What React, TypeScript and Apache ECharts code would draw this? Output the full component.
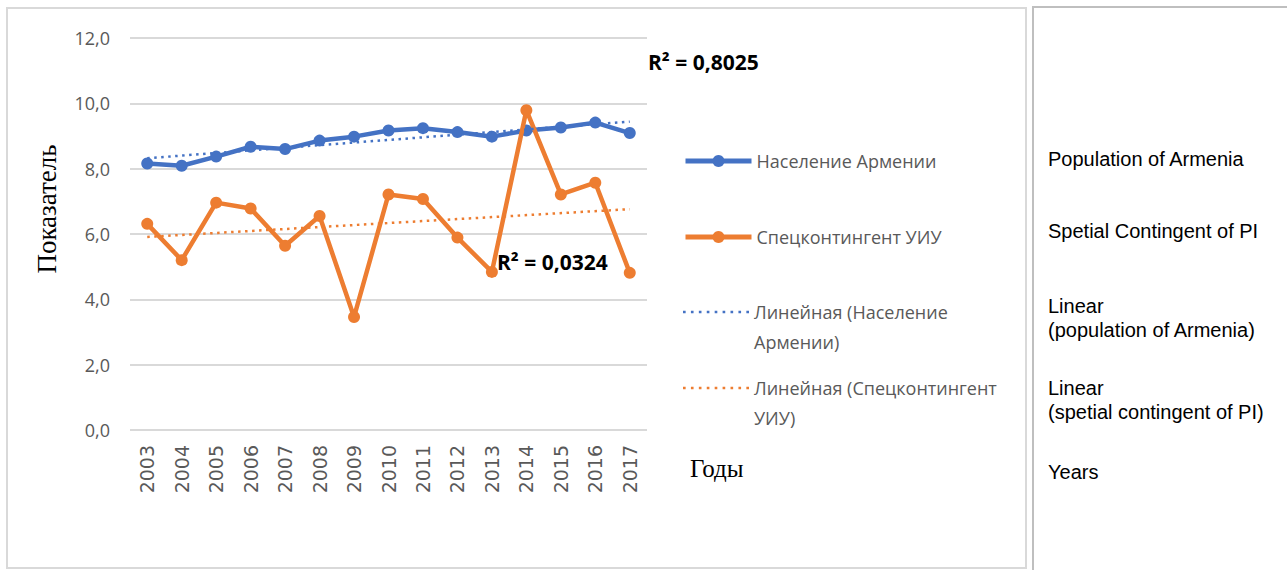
import React, { useEffect, useRef } from "react";
import * as echarts from "echarts";

// ---- data ----
const years = ["2003", "2004", "2005", "2006", "2007", "2008", "2009", "2010", "2011", "2012", "2013", "2014", "2015", "2016", "2017"];
const population = [8.16, 8.09, 8.37, 8.67, 8.6, 8.86, 8.98, 9.17, 9.24, 9.12, 8.98, 9.17, 9.26, 9.41, 9.09];
const contingent = [6.31, 5.2, 6.96, 6.78, 5.64, 6.55, 3.46, 7.21, 7.07, 5.89, 4.84, 9.79, 7.21, 7.57, 4.81];
// trend line end values (2003, 2017)
const populationTrend = [8.32, 9.44];
const contingentTrend = [5.91, 6.76];
const yMin = 0;
const yMax = 12;
const yStep = 2;
const seriesNames = [
  "Население Армении",
  "Спецконтингент УИУ",
  "Линейная (Население Армении)",
  "Линейная (Спецконтингент УИУ)",
];
const legendLabels = [
  "Население Армении",
  "Спецконтингент УИУ",
  "Линейная (Население\nАрмении)",
  "Линейная (Спецконтингент\nУИУ)",
];
const r2Labels = ["R² = 0,8025", "R² = 0,0324"];
const yAxisTitle = "Показатель";
const xAxisTitle = "Годы";
const englishNotes = [
  "Population of Armenia",
  "Spetial Contingent of PI",
  "Linear\n(population of Armenia)",
  "Linear\n(spetial contingent of PI)",
  "Years",
];

const BLUE = "#4472C4";
const ORANGE = "#ED7D31";
const GRAY_TEXT = "#595959";
const LEGEND_FONT = "'Open Sans', 'Noto Sans', sans-serif";

// dotted legend icon (9 dots)
const dottedIcon =
  "path://" +
  Array.from({ length: 9 }, (_, i) => `M${i * 7.5},0h2.5v2.5h-2.5z`).join("");

export default function App() {
  const ref = useRef<HTMLDivElement>(null);

  useEffect(() => {
    document.body.style.margin = "0";
    if (!ref.current) return;
    const chart = echarts.init(ref.current, undefined, { renderer: "svg" });

    const legendBase = {
      orient: "vertical" as const,
      left: 683,
      padding: 0,
      itemWidth: 66,
      itemHeight: 15,
      itemGap: 0,
      selectedMode: false,
      textStyle: { color: GRAY_TEXT, fontSize: 18, fontFamily: LEGEND_FONT, lineHeight: 30 },
    };

    const trendStyle = (color: string) => ({
      color,
      width: 2.5,
      type: [2.5, 4.5] as number[],
    });

    chart.setOption({
      animation: false,
      backgroundColor: "#ffffff",
      grid: { left: 130, right: 640, top: 38, bottom: 140, containLabel: false },
      xAxis: {
        type: "category",
        data: years,
        boundaryGap: true,
        axisLine: { show: false },
        axisTick: { show: false },
        axisLabel: {
          rotate: 90,
          margin: 15,
          color: GRAY_TEXT,
          fontSize: 19,
          fontFamily: "'DejaVu Sans', sans-serif",
          interval: 0,
        },
      },
      yAxis: {
        type: "value",
        min: yMin,
        max: yMax,
        interval: yStep,
        axisLine: { show: false },
        axisTick: { show: false },
        splitLine: { lineStyle: { color: "#d9d9d9", width: 2 } },
        axisLabel: {
          margin: 20,
          color: GRAY_TEXT,
          fontSize: 18,
          fontFamily: LEGEND_FONT,
          formatter: (v: number) => v.toFixed(1).replace(".", ","),
        },
      },
      legend: [
        {
          ...legendBase,
          top: 146,
          data: [seriesNames[0]],
          formatter: () => legendLabels[0],
          lineStyle: { width: 5 },
        },
        {
          ...legendBase,
          top: 222,
          data: [seriesNames[1]],
          formatter: () => legendLabels[1],
          lineStyle: { width: 5 },
        },
        {
          ...legendBase,
          top: 267,
          data: [{ name: seriesNames[2], icon: dottedIcon }],
          formatter: () => "\n" + legendLabels[2],
        },
        {
          ...legendBase,
          top: 343,
          data: [{ name: seriesNames[3], icon: dottedIcon }],
          formatter: () => "\n" + legendLabels[3],
        },
      ],
      series: [
        {
          name: seriesNames[0],
          type: "line",
          data: population,
          symbol: "circle",
          symbolSize: 12,
          lineStyle: { color: BLUE, width: 4.5 },
          itemStyle: { color: BLUE },
          z: 2,
        },
        {
          name: seriesNames[1],
          type: "line",
          data: contingent,
          symbol: "circle",
          symbolSize: 12,
          lineStyle: { color: ORANGE, width: 4.5 },
          itemStyle: { color: ORANGE },
          z: 3,
        },
        {
          name: seriesNames[2],
          type: "line",
          data: [
            [years[0], populationTrend[0]],
            [years[years.length - 1], populationTrend[1]],
          ],
          symbol: "none",
          lineStyle: trendStyle(BLUE),
          itemStyle: { color: BLUE },
          z: 4,
        },
        {
          name: seriesNames[3],
          type: "line",
          data: [
            [years[0], contingentTrend[0]],
            [years[years.length - 1], contingentTrend[1]],
          ],
          symbol: "none",
          lineStyle: trendStyle(ORANGE),
          itemStyle: { color: ORANGE },
          z: 4,
        },
      ],
      graphic: [
        // chart frame
        {
          type: "rect",
          shape: { x: 7, y: 8, width: 1019, height: 560 },
          style: { fill: "none", stroke: "#d9d9d9", lineWidth: 2 },
          z: 0,
          silent: true,
        },
        // right panel frame
        {
          type: "polyline",
          shape: { points: [[1033, 570], [1033, 7], [1287, 7]] },
          style: { fill: "none", stroke: "#bfbfbf", lineWidth: 2 },
          silent: true,
        },
        {
          type: "text",
          x: 648,
          y: 62,
          style: {
            text: r2Labels[0],
            fill: "#000",
            font: "bold 21px 'Open Sans', sans-serif",
            verticalAlign: "middle",
          },
          z: 100,
        },
        {
          type: "text",
          x: 497,
          y: 262,
          style: {
            text: r2Labels[1],
            fill: "#000",
            font: "bold 21px 'Open Sans', sans-serif",
            verticalAlign: "middle",
          },
          z: 100,
        },
        {
          type: "text",
          x: 47,
          y: 209,
          rotation: Math.PI / 2,
          style: {
            text: yAxisTitle,
            fill: "#000",
            font: "27px 'Liberation Serif', serif",
            align: "center",
            verticalAlign: "middle",
          },
        },
        {
          type: "text",
          x: 690,
          y: 468,
          style: {
            text: xAxisTitle,
            fill: "#000",
            font: "25px 'Liberation Serif', serif",
            verticalAlign: "middle",
          },
        },
        ...[
          { t: englishNotes[0], y: 159 },
          { t: englishNotes[1], y: 231 },
          { t: englishNotes[2], y: 318 },
          { t: englishNotes[3], y: 400 },
          { t: englishNotes[4], y: 472 },
        ].map((n) => ({
          type: "text",
          x: 1048,
          y: n.y,
          style: {
            text: n.t,
            fill: "#000",
            font: "20px 'Liberation Sans', Arial, sans-serif",
            lineHeight: 24,
            verticalAlign: "middle",
          },
        })),
      ],
    });

    return () => chart.dispose();
  }, []);

  return <div ref={ref} style={{ width: 1287, height: 570 }} />;
}
